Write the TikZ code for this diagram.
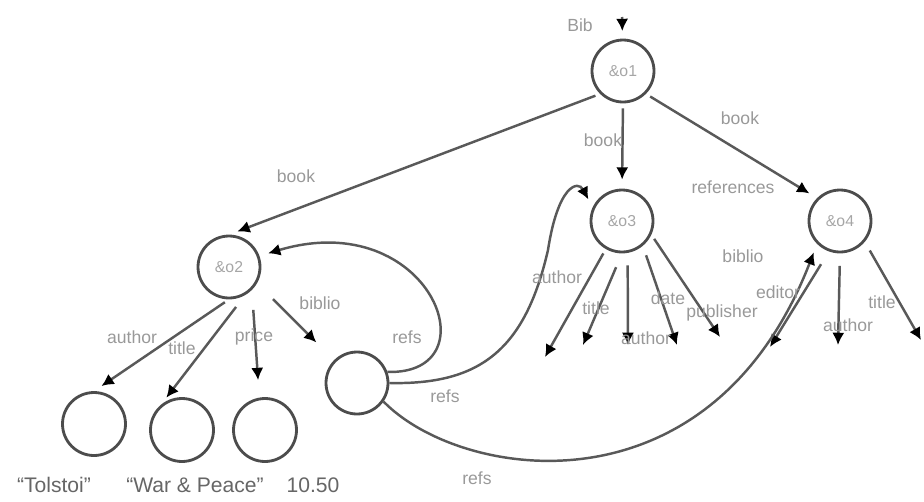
\documentclass[tikz,border=0pt]{standalone}
\usepackage{fontspec}
\setmainfont{Liberation Sans}
\usetikzlibrary{arrows.meta}
\tikzset{
  obj/.style={circle, draw=black!70, line width=1.6pt, minimum size=1.24cm, inner sep=0pt, font=\fontsize{9}{10}\selectfont, text=black!35},
  atom/.style={obj, minimum size=1.26cm},
  link/.style={draw=black!65, line width=1.4pt, -{Latex[length=7pt,width=7pt,color=black]}, shorten <=0.1cm, shorten >=0.18cm},
  free/.style={shorten >=0pt},
  elabel/.style={font=\fontsize{10}{12}\selectfont, text=black!40, inner sep=1pt},
  vlabel/.style={font=\fontsize{12}{14}\selectfont, text=black!60, inner sep=1pt},
}
\begin{document}
\begin{tikzpicture}[x=0.02cm, y=-0.02cm]
\useasboundingbox (0,0) rectangle (924,501);
\node[obj] (o1) at (623,71) {\&o1};
\node[obj] (o2) at (229,267) {\&o2};
\node[obj] (o3) at (622,221) {\&o3};
\node[obj] (o4) at (840,221) {\&o4};
\node[obj] (o5) at (357,383) {};
\node[atom] (v1) at (94,424) {};
\node[atom] (v2) at (182,430) {};
\node[atom] (v3) at (265,430) {};
\coordinate (bib) at (622,12);
\coordinate (m1) at (545,357);
\coordinate (m2) at (583,345);
\coordinate (m3) at (628,345);
\coordinate (m4) at (677,345);
\coordinate (m5) at (720,337);
\coordinate (r1) at (770,347);
\coordinate (r2) at (838,345);
\coordinate (r3) at (921,340);
\draw[link, shorten >=0.15cm] (bib) -- (o1);
\draw[link] (o1.south west) -- (o2.north);
\draw[link] (o1.south) -- (o3.north);
\draw[link] (o1.south east) -- (o4.north west);
\draw[link] (o2.south) -- (v1.north);
\draw[link, shorten <=0.3cm] (o2.-60) -- (v2.130);
\draw[link, shorten <=0.4cm, shorten >=0.35cm] (o2.south east) -- (v3.100);
\draw[link, shorten <=0.45cm, shorten >=0.5cm] (o2.-30) -- (o5.north west);
\draw[link, free] (o3.-120) -- (m1);
\draw[link, free, shorten <=0.3cm] (o3.south) -- (m2);
\draw[link, free, shorten <=0.25cm] (o3.-80) -- (m3);
\draw[link, free, shorten <=0.2cm] (o3.-50) -- (m4);
\draw[link, free] (o3.-25) -- (m5);
\draw[link, free, shorten <=0.3cm] (o4.-110) -- (r1);
\draw[link, free, shorten <=0.25cm] (o4.south) -- (r2);
\draw[link, free, shorten <=0.2cm] (o4.-40) -- (r3);
\draw[link, shorten <=0pt] (o5.20) .. controls (495,375) and (430,205) .. (o2.20);
\draw[link, shorten <=0pt] (o5.east) .. controls (480,385) and (525,350) .. (548,250) .. controls (558,185) and (578,180) .. (o3.155);
\draw[link, shorten <=0pt] (o5.-35) .. controls (460,480) and (710,520) .. (o4.south west);
\node[elabel] (lbib) at (580,25) {Bib};
\node[elabel] (lbook1) at (296,176) {book};
\node[elabel] (lbook2) at (603,140) {book};
\node[elabel] (lbook3) at (740,118) {book};
\node[elabel] (lrefer) at (733,187) {references};
\node[elabel] (lauth1) at (132,337) {author};
\node[elabel] (ltitle1) at (182,348) {title};
\node[elabel] (lprice) at (254,337) {price};
\node[elabel] (lbiblio1) at (320,303) {biblio};
\node[elabel] (lrefs1) at (407,337) {refs};
\node[elabel] (lrefs2) at (445,396) {refs};
\node[elabel] (lrefs3) at (477,478) {refs};
\node[elabel] (lauth2) at (557,277) {author};
\node[elabel] (ltitle2) at (596,308) {title};
\node[elabel] (lauth3) at (646,338) {author};
\node[elabel] (ldate) at (668,298) {date};
\node[elabel] (lpubl) at (722,313) {publisher};
\node[elabel] (lbiblio2) at (743,256) {biblio};
\node[elabel] (ledit) at (778,292) {editor};
\node[elabel] (lauth4) at (848,325) {author};
\node[elabel] (ltitle3) at (882,302) {title};
\node[vlabel] (tolstoi) at (54,485) {“Tolstoi”};
\node[vlabel] (warpeace) at (195,485) {“War \& Peace”};
\node[vlabel] (price) at (313,485) {10.50};
\end{tikzpicture}
\end{document}
